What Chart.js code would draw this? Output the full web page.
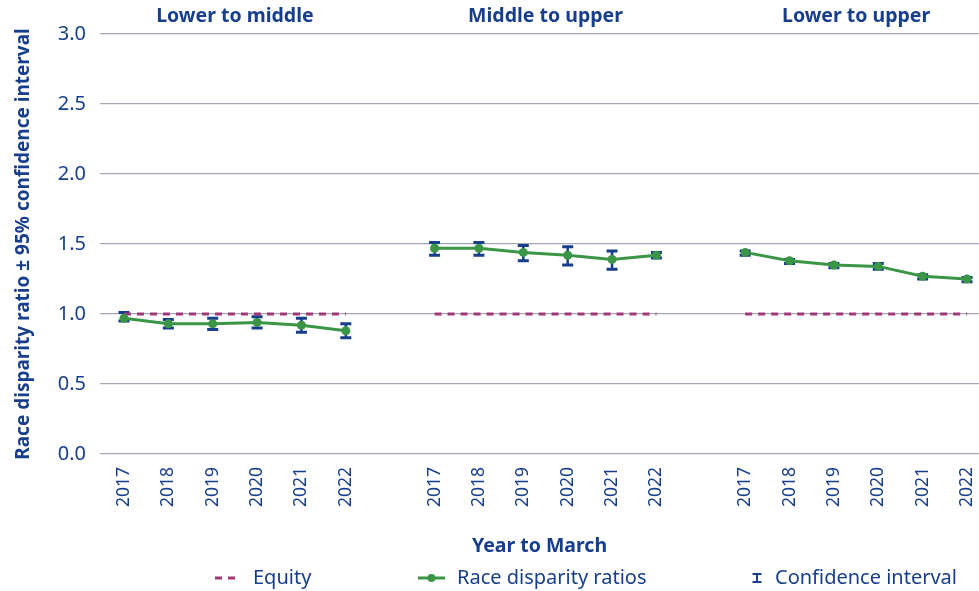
<!DOCTYPE html>
<html>
<head>
<meta charset="utf-8">
<script src="https://cdn.jsdelivr.net/npm/chart.js@4.4.1/dist/chart.umd.min.js"></script>
<style>
  html, body { margin: 0; padding: 0; background: #ffffff; }
  #wrap { width: 979px; height: 591px; position: relative; }
</style>
</head>
<body>
<div id="wrap"><canvas id="c" width="979" height="591"></canvas></div>
<script>
// ---- Data ----
const years = ['2017', '2018', '2019', '2020', '2021', '2022'];
const panelTitles = ['Lower to middle', 'Middle to upper', 'Lower to upper'];
const equityValue = 1.0;

const ratioLowerMiddle = [0.97, 0.93, 0.93, 0.94, 0.92, 0.88];
const lowLowerMiddle   = [0.95, 0.90, 0.89, 0.90, 0.87, 0.83];
const highLowerMiddle  = [1.01, 0.96, 0.97, 0.98, 0.97, 0.93];

const ratioMiddleUpper = [1.47, 1.47, 1.44, 1.42, 1.39, 1.42];
const lowMiddleUpper   = [1.42, 1.42, 1.38, 1.35, 1.32, 1.40];
const highMiddleUpper  = [1.51, 1.51, 1.49, 1.48, 1.45, 1.44];

const ratioLowerUpper  = [1.44, 1.38, 1.35, 1.34, 1.27, 1.25];
const lowLowerUpper    = [1.42, 1.36, 1.33, 1.32, 1.25, 1.23];
const highLowerUpper   = [1.45, 1.39, 1.36, 1.36, 1.28, 1.26];

const yTicks = [0.0, 0.5, 1.0, 1.5, 2.0, 2.5, 3.0];

// ---- Build series (one empty slot between panels) ----
const ratios = [ratioLowerMiddle, ratioMiddleUpper, ratioLowerUpper];
const lows = [lowLowerMiddle, lowMiddleUpper, lowLowerUpper];
const highs = [highLowerMiddle, highMiddleUpper, highLowerUpper];

const slot = years.length + 1;
const ratioPts = [], equityPts = [], ciPts = [], tickLabels = {};
const panelSpans = [];
ratios.forEach((arr, p) => {
  const start = p * slot;
  panelSpans.push([start, start + years.length - 1]);
  arr.forEach((v, i) => {
    const x = start + i;
    tickLabels[x] = years[i];
    ratioPts.push({ x: x, y: v });
    equityPts.push({ x: x, y: equityValue });
    ciPts.push({ x: x, lo: lows[p][i], hi: highs[p][i] });
  });
  if (p < ratios.length - 1) {
    ratioPts.push({ x: start + years.length, y: null });
    equityPts.push({ x: start + years.length, y: null });
  }
});
const tickValues = Object.keys(tickLabels).map(Number);

const NAVY = '#173e8c';
const GREEN = '#3a9646';
const MAGENTA = '#a2377a';
const FONT = "'Noto Sans', 'Open Sans', sans-serif";

// ---- Plugins ----
const errorBars = {
  id: 'errorBars',
  beforeDatasetsDraw(chart) {
    const ctx = chart.ctx, xs = chart.scales.x, ys = chart.scales.y;
    ctx.save();
    ctx.strokeStyle = NAVY;
    ciPts.forEach(d => {
      const x = xs.getPixelForValue(d.x);
      const y1 = ys.getPixelForValue(d.lo);
      const y2 = ys.getPixelForValue(d.hi);
      ctx.lineWidth = 2.5;
      ctx.beginPath(); ctx.moveTo(x, y1); ctx.lineTo(x, y2); ctx.stroke();
      ctx.lineWidth = 3;
      ctx.beginPath();
      ctx.moveTo(x - 5.5, y1); ctx.lineTo(x + 5.5, y1);
      ctx.moveTo(x - 5.5, y2); ctx.lineTo(x + 5.5, y2);
      ctx.stroke();
    });
    ctx.restore();
  }
};

const panelTitlePlugin = {
  id: 'panelTitles',
  afterDraw(chart) {
    const ctx = chart.ctx, xs = chart.scales.x;
    ctx.save();
    ctx.fillStyle = NAVY;
    ctx.font = "bold 19.5px " + FONT;
    ctx.textAlign = 'center';
    ctx.textBaseline = 'middle';
    panelSpans.forEach((s, i) => {
      const cx = (xs.getPixelForValue(s[0]) + xs.getPixelForValue(s[1])) / 2;
      ctx.fillText(panelTitles[i], cx, 16);
    });
    ctx.restore();
  }
};

const legendPlugin = {
  id: 'customLegend',
  afterDraw(chart) {
    const ctx = chart.ctx;
    const y = 578;
    ctx.save();
    ctx.font = "20px " + FONT;
    ctx.fillStyle = NAVY;
    ctx.textBaseline = 'middle';
    ctx.textAlign = 'left';
    // Equity
    ctx.strokeStyle = MAGENTA; ctx.lineWidth = 3; ctx.setLineDash([7, 6]);
    ctx.beginPath(); ctx.moveTo(215, y); ctx.lineTo(241, y); ctx.stroke();
    ctx.setLineDash([]);
    ctx.fillText('Equity', 253, y);
    // Ratios
    ctx.strokeStyle = GREEN; ctx.lineWidth = 3;
    ctx.beginPath(); ctx.moveTo(418, y); ctx.lineTo(445, y); ctx.stroke();
    ctx.fillStyle = GREEN;
    ctx.beginPath(); ctx.arc(431.5, y, 4, 0, Math.PI * 2); ctx.fill();
    ctx.fillStyle = NAVY;
    ctx.fillText('Race disparity ratios', 457, y);
    // CI
    ctx.strokeStyle = NAVY; ctx.lineWidth = 2;
    ctx.beginPath();
    ctx.moveTo(757, y - 4); ctx.lineTo(757, y + 4);
    ctx.moveTo(752.5, y - 4); ctx.lineTo(761.5, y - 4);
    ctx.moveTo(752.5, y + 4); ctx.lineTo(761.5, y + 4);
    ctx.stroke();
    ctx.fillText('Confidence interval', 775, y);
    ctx.restore();
  }
};

new Chart(document.getElementById('c'), {
  type: 'line',
  data: {
    datasets: [
      {
        label: 'Race disparity ratios',
        data: ratioPts,
        borderColor: GREEN,
        backgroundColor: GREEN,
        borderWidth: 3,
        pointRadius: 4.5,
        pointBorderWidth: 0,
        pointBackgroundColor: GREEN,
        spanGaps: false,
        tension: 0,
        order: 1
      },
      {
        label: 'Equity',
        data: equityPts,
        borderColor: MAGENTA,
        borderWidth: 3,
        borderDash: [7, 6],
        pointRadius: 0,
        spanGaps: false,
        tension: 0,
        order: 2
      }
    ]
  },
  options: {
    responsive: false,
    animation: false,
    devicePixelRatio: 1,
    layout: { autoPadding: false, padding: { top: 34, right: 0, bottom: 29, left: 0 } },
    plugins: {
      legend: { display: false },
      tooltip: { enabled: false }
    },
    scales: {
      x: {
        type: 'linear',
        min: -0.54,
        max: 19.27,
        grid: { display: false },
        border: { display: false },
        afterBuildTicks(scale) { scale.ticks = tickValues.map(v => ({ value: v })); },
        afterFit(scale) { scale.height = 108; scale.paddingLeft = 0; scale.paddingRight = 0; },
        ticks: {
          autoSkip: false,
          minRotation: 90,
          maxRotation: 90,
          padding: 5,
          color: NAVY,
          font: { family: FONT, size: 17.5 },
          callback: (v) => tickLabels[v] || ''
        },
        title: {
          display: true,
          text: 'Year to March',
          color: NAVY,
          font: { family: FONT, size: 19.5, weight: 'bold' },
          padding: { top: 4, bottom: 4 }
        }
      },
      y: {
        min: 0,
        max: 3,
        afterBuildTicks(scale) { scale.ticks = yTicks.map(v => ({ value: v })); },
        afterFit(scale) { scale.width = 100; },
        grid: { color: '#a3a8b4', lineWidth: 1.3, drawTicks: false },
        border: { display: false },
        ticks: {
          padding: 14,
          color: NAVY,
          font: { family: FONT, size: 20 },
          callback: (v) => v.toFixed(1)
        },
        title: {
          display: true,
          text: 'Race disparity ratio ± 95% confidence interval',
          color: NAVY,
          font: { family: FONT, size: 19, weight: 'bold' },
          padding: { top: 12, bottom: 0 }
        }
      }
    }
  },
  plugins: [errorBars, panelTitlePlugin, legendPlugin]
});
</script>
</body>
</html>
